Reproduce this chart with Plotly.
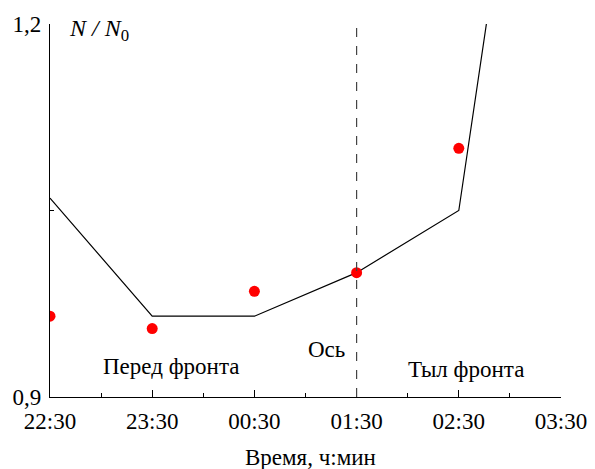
import plotly.graph_objects as go

tick_labels = ["22:30", "23:30", "00:30", "01:30", "02:30", "03:30"]
tick_pos = [0, 1, 2, 3, 4, 5]

line_x = [0, 1, 2, 3, 4, 4.27]
line_y = [1.06, 0.965, 0.965, 1.0, 1.05, 1.2]

pts_x = [0, 1, 2, 3, 4]
pts_y = [0.965, 0.955, 0.985, 1.0, 1.1]

axis_x = 3

FONT = "Liberation Serif"
FS = 23
fig = go.Figure()
fig.add_trace(go.Scatter(x=line_x, y=line_y, mode="lines",
                         line=dict(color="black", width=1.2), cliponaxis=False,
                         showlegend=False))
fig.add_trace(go.Scatter(x=pts_x, y=pts_y, mode="markers",
                         marker=dict(color="#ff0000", size=11), showlegend=False))
fig.add_shape(type="line", x0=axis_x, x1=axis_x, y0=0, y1=1, yref="paper",
              line=dict(color="#444444", width=1.2, dash="dash"))

fig.update_xaxes(range=[0, 5], tickvals=tick_pos, ticktext=tick_labels,
                 ticks="inside", ticklen=7, tickwidth=1.2, tickcolor="black",
                 showline=True, linecolor="black", linewidth=1.3,
                 showgrid=False, zeroline=False, ticklabelstandoff=3,
                 automargin=False,
                 minor=dict(tickvals=[0.5, 1.5, 2.5, 3.5, 4.5], ticks="inside",
                            ticklen=4, tickwidth=1.2, tickcolor="black", showgrid=False),
                 tickfont=dict(family=FONT, size=FS, color="black"))
fig.update_yaxes(range=[0.9, 1.2], tickvals=[0.9, 1.2], ticktext=["0,9", "1,2"],
                 ticks="inside", ticklen=7, tickwidth=1.2, tickcolor="black",
                 showline=True, linecolor="black", linewidth=1.3,
                 showgrid=False, zeroline=False, ticklabelstandoff=3,
                 automargin=False,
                 minor=dict(tickvals=[1.05], ticks="inside", ticklen=4,
                            tickwidth=1.2, tickcolor="black", showgrid=False),
                 tickfont=dict(family=FONT, size=FS, color="black"))

ann_font = dict(family=FONT, size=FS, color="black")
fig.add_annotation(x=1.18, y=366, xref="x", yref="paper", text="Перед фронта", showarrow=False,
                   xanchor="center", yanchor="middle", font=ann_font)
fig.add_annotation(x=2.71, y=349, xref="x", yref="paper", text="Ось", showarrow=False,
                   xanchor="center", yanchor="middle", font=ann_font)
fig.add_annotation(x=4.07, y=369, xref="x", yref="paper", text="Тыл фронта", showarrow=False,
                   xanchor="center", yanchor="middle", font=ann_font)
fig.add_annotation(x=310, y=458, xref="paper", yref="paper",
                   text="Время, ч:мин", showarrow=False,
                   xanchor="center", yanchor="middle", font=ann_font)
fig.add_annotation(x=67, y=30, xref="paper", yref="paper",
                   text="<i>N</i> <i>/</i> <i>N</i><sub>0</sub>",
                   showarrow=False, xanchor="left", yanchor="middle",
                   font=dict(family=FONT, size=24, color="black"))

W, H = 595, 469
L, R, T, B = 50, 34, 24, 72
pw, ph = W - L - R, H - T - B
# convert pixel positions to paper coordinates for annotations
for a in fig.layout.annotations:
    if a.yref == "paper":
        a.y = (H - B - a.y) / ph
    if a.xref == "paper":
        a.x = (a.x - L) / pw

fig.update_layout(width=W, height=H, margin=dict(l=L, r=R, t=T, b=B),
                  plot_bgcolor="white", paper_bgcolor="white")
fig.write_html("out.html", post_script="document.body.style.margin='0';",
               config={"displayModeBar": False})
